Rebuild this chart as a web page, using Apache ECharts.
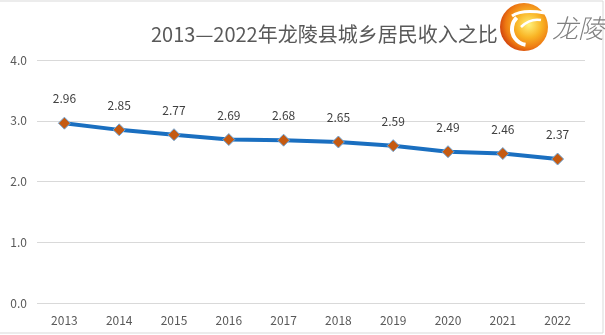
<!DOCTYPE html>
<html>
<head>
<meta charset="utf-8">
<script src="https://cdn.jsdelivr.net/npm/echarts@6/dist/echarts.min.js"></script>
<style>
html,body{margin:0;padding:0;background:#fff;}
#chart{width:605px;height:335px;}
</style>
</head>
<body>
<div id="chart"></div>
<script>
var titleText = '2013—2022年龙陵县城乡居民收入之比';
var logoText = '龙陵';
var years = ['2013','2014','2015','2016','2017','2018','2019','2020','2021','2022'];
var ratios = [2.96, 2.85, 2.77, 2.69, 2.68, 2.65, 2.59, 2.49, 2.46, 2.37];
var yTicks = [0, 1, 2, 3, 4];

var chart = echarts.init(document.getElementById('chart'), null, {renderer:'canvas'});
var font = '"Microsoft YaHei","Noto Sans CJK SC","DejaVu Sans",sans-serif';
chart.setOption({
  backgroundColor: '#fff',
  animation: false,
  title: {
    text: titleText,
    left: 146, top: 19,
    textStyle: {fontSize: 20, fontWeight: 'normal', color: '#595959', fontFamily: font}
  },
  grid: {left: 37, right: 20, top: 60, bottom: 32},
  xAxis: {
    type: 'category',
    data: years,
    boundaryGap: true,
    axisLine: {show: false},
    axisTick: {show: false},
    axisLabel: {color: '#595959', fontSize: 12, margin: 11, fontFamily: font}
  },
  yAxis: {
    type: 'value',
    min: yTicks[0], max: yTicks[yTicks.length-1], interval: 1,
    axisLine: {show: false},
    axisTick: {show: false},
    splitLine: {lineStyle: {color: '#d9d9d9', width: 1}},
    axisLabel: {color: '#595959', fontSize: 12, margin: 10, fontFamily: font,
      formatter: function(v){ return v.toFixed(1); }}
  },
  series: [{
    type: 'line',
    data: ratios,
    symbol: 'diamond',
    symbolSize: 12,
    lineStyle: {color: '#1A6FC0', width: 4},
    itemStyle: {color: '#C55A11', borderColor: '#6FA8DC', borderWidth: 1},
    label: {show: true, position: 'top', distance: 12, color: '#404040', fontSize: 12, fontFamily: font,
      formatter: function(p){ return p.value.toFixed(2); }}
  }],
  graphic: [
    {type: 'rect', shape: {x: -1, y: 1, width: 604, height: 332}, style: {fill: 'none', stroke: '#d9d9d9', lineWidth: 1}, silent: true},
    {type: 'circle', shape: {cx: 524, cy: 27, r: 24}, style: {
      fill: {type: 'radial', x: 0.6, y: 0.45, r: 0.6, colorStops: [
        {offset: 0, color: '#FFF27A'}, {offset: 0.45, color: '#F9B425'}, {offset: 0.8, color: '#EE7A12'}, {offset: 1, color: '#D4480E'}]}
    }},
    {type: 'arc', shape: {cx: 528, cy: 29, r: 16, startAngle: Math.PI*0.55, endAngle: Math.PI*1.25}, style: {stroke: '#fff', lineWidth: 4, fill: 'none'}},
    {type: 'bezierCurve', shape: {x1: 512, y1: 16, cpx1: 522, cpy1: 9, x2: 545, y2: 13}, style: {stroke: '#fff', lineWidth: 3, fill: 'none'}},
    {type: 'bezierCurve', shape: {x1: 521, y1: 27, cpx1: 530, cpy1: 18, x2: 541, y2: 20}, style: {stroke: '#fff', lineWidth: 2.5, fill: 'none'}},
    {type: 'text', x: 552, y: 15, style: {text: logoText, fontSize: 26, fill: '#808080', fontFamily: font, fontStyle: 'italic', fontWeight: 300}}
  ]
});
</script>
</body>
</html>
